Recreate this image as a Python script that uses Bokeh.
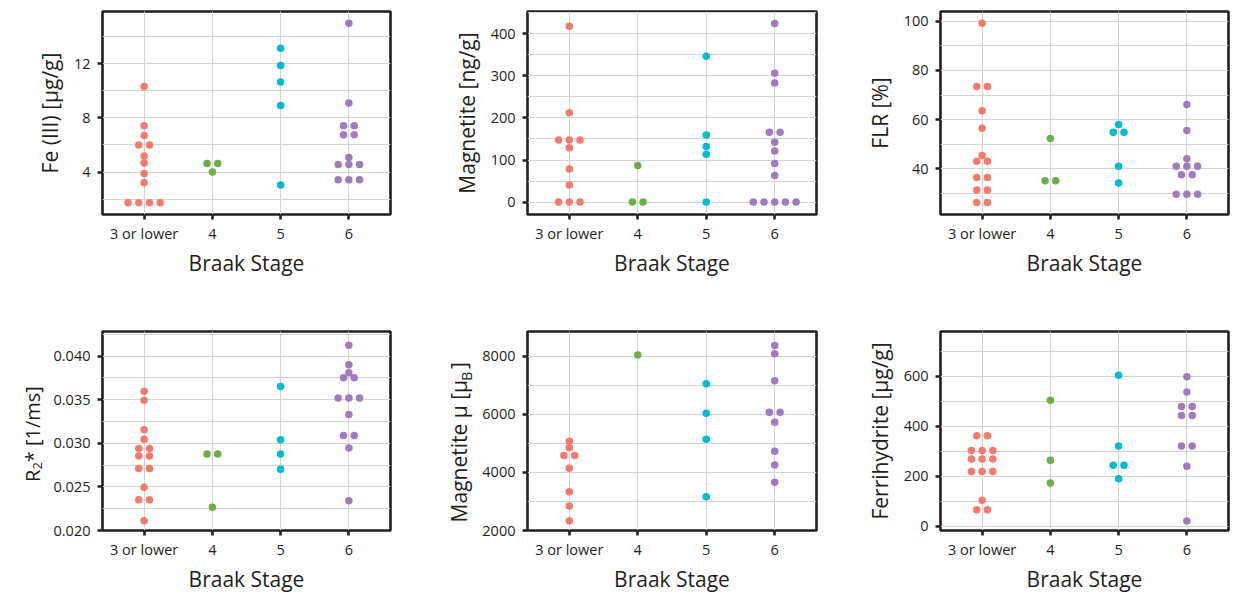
import numpy as np
from bokeh.plotting import figure
from bokeh.layouts import column, row
from bokeh.models import Range1d, FixedTicker
from bokeh.core.properties import value
from bokeh.embed import file_html
from bokeh.resources import INLINE

# ---------------- data ----------------
categories = ["3 or lower", "4", "5", "6"]
colors = ["#F47A70", "#6DAE46", "#00BCD0", "#A07CBF"]

fe_3 = [10.3, 7.42, 6.7, 6.0, 6.0, 5.18, 4.66, 3.9, 3.21, 1.73, 1.73, 1.73, 1.73]
fe_4 = [4.64, 4.64, 4.0]
fe_5 = [13.13, 11.85, 10.65, 8.9, 3.04]
fe_6 = [14.98, 9.1, 7.42, 7.42, 6.76, 6.76, 5.08, 4.56, 4.56, 4.56, 3.43, 3.43, 3.43]

mag_3 = [418, 212.6, 147.6, 147.6, 147.6, 129, 78.6, 40.5, 0, 0, 0]
mag_4 = [87, 0, 0]
mag_5 = [346.7, 159.5, 132.4, 114, 0]
mag_6 = [424.5, 306, 283, 165.7, 165.7, 142, 121.4, 92, 63.4, 0, 0, 0, 0, 0]

flr_3 = [99.1, 73.5, 73.5, 63.6, 56.5, 45.4, 43.1, 43.1, 36.5, 36.5, 31.4, 31.4, 26.4, 26.4]
flr_4 = [52.3, 35.2, 35.2]
flr_5 = [58.0, 54.9, 54.9, 41.1, 34.3]
flr_6 = [66.1, 55.6, 44.1, 41.1, 41.1, 41.1, 37.6, 37.6, 29.7, 29.7, 29.7]

r2_3 = [0.03598, 0.03493, 0.03154, 0.03045, 0.0294, 0.0294, 0.02853, 0.02853,
        0.0271, 0.0271, 0.02496, 0.02353, 0.02353, 0.02113]
r2_4 = [0.02876, 0.02876, 0.02267]
r2_5 = [0.0365, 0.03041, 0.02876, 0.02703]
r2_6 = [0.04124, 0.03902, 0.03808, 0.03752, 0.03752, 0.03519, 0.03519, 0.03519,
        0.03331, 0.0309, 0.0309, 0.02947, 0.02342]

mu_3 = [5068, 4843, 4583, 4583, 4143, 3331, 2846, 2338]
mu_4 = [8035]
mu_5 = [7053, 6038, 5136, 3162]
mu_6 = [8362, 8080, 7155, 6072, 6072, 5722, 4730, 4256, 3658]

fer_3 = [362, 362, 303, 303, 303, 269, 269, 269, 219, 219, 219, 104, 66, 66]
fer_4 = [504, 264, 173]
fer_5 = [604, 321.5, 244, 244, 190]
fer_6 = [598, 537, 479, 479, 443.5, 443.5, 321.5, 321.5, 240, 21]

fe_ticks, fe_tick_labels, fe_minor = [4, 8, 12], ["4", "8", "12"], [2, 6, 10, 14]
mag_ticks, mag_tick_labels, mag_minor = [0, 100, 200, 300, 400], ["0", "100", "200", "300", "400"], [50, 150, 250, 350, 450]
flr_ticks, flr_tick_labels, flr_minor = [40, 60, 80, 100], ["40", "60", "80", "100"], [30, 50, 70, 90]
r2_ticks = [0.020, 0.025, 0.030, 0.035, 0.040]
r2_tick_labels = ["0.020", "0.025", "0.030", "0.035", "0.040"]
r2_minor = [0.0225, 0.0275, 0.0325, 0.0375, 0.0425]
mu_ticks, mu_tick_labels, mu_minor = [2000, 4000, 6000, 8000], ["2000", "4000", "6000", "8000"], [3000, 5000, 7000]
fer_ticks, fer_tick_labels, fer_minor = [0, 200, 400, 600], ["0", "200", "400", "600"], [100, 300, 500, 700]

# y-axis titles with subscripts, split in pieces: (text, font size)
r2_title = [("R", "20px"), ("2", "13px"), ("* [1/ms]", "20px")]
mu_title = [("Magnetite μ [μ", "21px"), ("B", "14px"), ("]", "21px")]

# ---------------- style ----------------
FONT = "Open Sans"
INK = "#231F20"
GRID = "#D4D4D4"
X0, X1 = -0.61, 3.61
DOT = 7.5          # marker diameter, px
DOT_STEP = 10.7    # centre distance between neighbours in a row, px


def swarm_offsets(values, py_per_unit, step_units, tol_px=3.0):
    """'center' beeswarm: values closer than tol_px share a row, each row centred."""
    vals = np.asarray(values, float)
    order = np.argsort(vals, kind="stable")
    offs = np.zeros(len(vals))
    groups, cur = [], [order[0]]
    for idx in order[1:]:
        if (vals[idx] - vals[cur[0]]) * py_per_unit < tol_px:
            cur.append(idx)
        else:
            groups.append(cur)
            cur = [idx]
    groups.append(cur)
    for g in groups:
        n = len(g)
        for k, idx in enumerate(g):
            offs[idx] = (k - (n - 1) / 2) * step_units
    return offs


def panel(series, yr, ticks, tick_labels, minor, ylabel, width, height,
          mbl, mbr, mbt, mbb):
    p = figure(width=width, height=height, x_range=Range1d(X0, X1),
               y_range=Range1d(*yr), output_backend="svg", toolbar_location=None,
               min_border_left=mbl, min_border_right=mbr,
               min_border_top=mbt, min_border_bottom=mbb)
    p.background_fill_color = "white"
    p.border_fill_color = "white"
    p.outline_line_color = INK
    p.outline_line_width = 2.6
    p.outline_line_alpha = 1.0

    fw = width - mbl - mbr
    fh = height - mbt - mbb
    pxu = fw / (X1 - X0)
    pyu = fh / (yr[1] - yr[0])

    for i, vals in enumerate(series):
        offs = swarm_offsets(vals, pyu, DOT_STEP / pxu)
        xs = [i + o for o in offs]
        p.scatter(xs, vals, size=DOT, fill_color=colors[i], line_color=None,
                  marker="circle")

    p.xaxis.ticker = FixedTicker(ticks=list(range(len(categories))))
    p.xaxis.major_label_overrides = {i: c for i, c in enumerate(categories)}
    p.yaxis.ticker = FixedTicker(ticks=ticks, minor_ticks=minor)
    p.yaxis.major_label_overrides = {t: l for t, l in zip(ticks, tick_labels)}

    for ax in p.axis:
        ax.axis_line_color = None
        ax.major_tick_line_color = INK
        ax.major_tick_line_width = 2.6
        ax.major_tick_out = 5
        ax.major_tick_in = 0
        ax.minor_tick_line_color = None
        ax.major_label_text_font = FONT
        ax.major_label_text_font_size = "14.5px"
        ax.major_label_text_color = INK
        ax.axis_label_text_font = FONT
        ax.axis_label_text_font_size = "21px"
        ax.axis_label_text_font_style = "normal"
        ax.axis_label_text_color = INK
    p.xaxis.major_label_standoff = 4
    p.xaxis.axis_label_standoff = 3
    p.yaxis.major_label_standoff = 7
    p.yaxis.axis_label_standoff = 7
    p.xaxis.axis_label = "Braak Stage"
    if ylabel is not None:
        p.yaxis.axis_label = ylabel

    p.xgrid.grid_line_color = GRID
    p.xgrid.grid_line_width = 1
    p.ygrid.grid_line_color = GRID
    p.ygrid.grid_line_width = 1
    p.ygrid.minor_grid_line_color = GRID
    p.ygrid.minor_grid_line_width = 1
    p.xgrid.level = "underlay"
    p.ygrid.level = "underlay"
    return p


def title_strip(pieces, width, height, mbt, mbb, xs, ys):
    """Narrow figure holding a vertical axis title built from pieces (subscripts).
    Its frame shares the row's top/bottom borders, so y is px above the frame bottom."""
    fh = height - mbt - mbb
    f = figure(width=width, height=height, x_range=Range1d(0, width),
               y_range=Range1d(0, fh), output_backend="svg",
               toolbar_location=None, x_axis_type=None, y_axis_type=None,
               min_border_left=0, min_border_right=0,
               min_border_top=mbt, min_border_bottom=mbb)
    f.grid.visible = False
    f.outline_line_color = None
    f.background_fill_color = "white"
    f.border_fill_color = "white"
    for (txt, size), x, y in zip(pieces, xs, ys):
        f.text(x=[x], y=[y], text=[txt], angle=np.pi / 2,
               text_align="left", text_baseline="alphabetic",
               text_font=value(FONT), text_font_size=size, text_color=INK)
    return f


ROW1 = (300, 11, 86)   # height, min_border_top, min_border_bottom
ROW2 = (295, 31, 62)
COLS_TOP = [(420, 102, 30), (410, 107, 14), (404, 110, 6)]

spec_top = [
    ([fe_3, fe_4, fe_5, fe_6], (0.87, 15.84), fe_ticks, fe_tick_labels, fe_minor, "Fe (III) [μg/g]"),
    ([mag_3, mag_4, mag_5, mag_6], (-29.5, 453), mag_ticks, mag_tick_labels, mag_minor, "Magnetite [ng/g]"),
    ([flr_3, flr_4, flr_5, flr_6], (21.5, 103.9), flr_ticks, flr_tick_labels, flr_minor, "FLR [%]"),
]

top = []
for (s, yr, t, tl, mn, yl), (w, l, r) in zip(spec_top, COLS_TOP):
    h, mt, mb = ROW1
    top.append(panel(s, yr, t, tl, mn, yl, w, h, l, r, mt, mb))

h2, mt2, mb2 = ROW2
lab_r2 = title_strip(r2_title, 50, h2, mt2, mb2, [32.3, 36.7, 32.3], [49.2, 61.9, 69.3])
p_r2 = panel([r2_3, r2_4, r2_5, r2_6], (0.0200, 0.04282), r2_ticks, r2_tick_labels,
             r2_minor, None, 370, h2, 52, 30, mt2, mb2)
lab_mu = title_strip(mu_title, 58, h2, mt2, mb2, [38.3, 46.0, 38.3], [8.2, 152.0, 164.0])
p_mu = panel([mu_3, mu_4, mu_5, mu_6], (2000, 8847), mu_ticks, mu_tick_labels,
             mu_minor, None, 352, h2, 49, 14, mt2, mb2)
p_fer = panel([fer_3, fer_4, fer_5, fer_6], (-17, 779.5), fer_ticks, fer_tick_labels,
              fer_minor, "Ferrihydrite [μg/g]", 404, h2, 110, 6, mt2, mb2)

layout = column(row(*top), row(lab_r2, p_r2, lab_mu, p_mu, p_fer))
open("out.html", "w").write(file_html(layout, INLINE))
